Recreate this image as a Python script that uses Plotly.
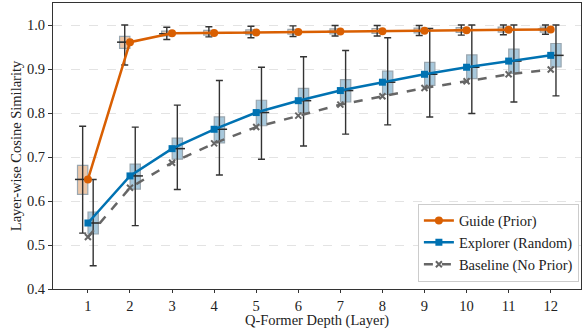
import plotly.graph_objects as go

layers = [1, 2, 3, 4, 5, 6, 7, 8, 9, 10, 11, 12]

guide_mean = [0.649, 0.961, 0.981, 0.982, 0.983, 0.984, 0.985, 0.986, 0.987, 0.988, 0.989, 0.990]
explorer_mean = [0.550, 0.657, 0.719, 0.763, 0.801, 0.828, 0.851, 0.870, 0.888, 0.904, 0.918, 0.931]
baseline_mean = [0.518, 0.630, 0.687, 0.731, 0.768, 0.794, 0.819, 0.838, 0.857, 0.872, 0.888, 0.899]

guide_q1 = [0.615, 0.947, 0.975, 0.977, 0.978, 0.979, 0.980, 0.981, 0.982, 0.983, 0.984, 0.984]
guide_med = [0.649, 0.961, 0.980, 0.982, 0.983, 0.984, 0.985, 0.986, 0.987, 0.988, 0.989, 0.990]
guide_q3 = [0.681, 0.974, 0.986, 0.988, 0.989, 0.990, 0.991, 0.992, 0.993, 0.994, 0.995, 0.995]
guide_lo = [0.527, 0.909, 0.967, 0.973, 0.971, 0.974, 0.975, 0.975, 0.976, 0.977, 0.978, 0.979]
guide_hi = [0.770, 1.000, 0.995, 0.996, 0.997, 0.998, 0.999, 0.999, 0.999, 1.000, 1.000, 1.000]

explorer_q1 = [0.525, 0.627, 0.695, 0.732, 0.771, 0.801, 0.825, 0.842, 0.863, 0.878, 0.890, 0.905]
explorer_med = [0.550, 0.657, 0.719, 0.763, 0.801, 0.828, 0.851, 0.870, 0.888, 0.904, 0.918, 0.931]
explorer_q3 = [0.575, 0.684, 0.743, 0.791, 0.829, 0.856, 0.876, 0.895, 0.915, 0.932, 0.945, 0.958]
explorer_lo = [0.453, 0.544, 0.626, 0.659, 0.695, 0.725, 0.752, 0.773, 0.791, 0.799, 0.825, 0.839]
explorer_hi = [0.649, 0.768, 0.818, 0.874, 0.904, 0.928, 0.942, 0.971, 0.992, 1.000, 1.000, 1.000]

y_ticks = [0.4, 0.5, 0.6, 0.7, 0.8, 0.9, 1.0]

ORANGE = "#D95F02"
BLUE = "#0072B2"
GRAY = "#666666"
FONT = "Liberation Serif"
FS = 14.5

OFF = 0.125
BW = 0.245

fig = go.Figure()

def add_boxes(pos, q1, med, q3, lo, hi, fill):
    # whiskers (under boxes)
    fig.add_trace(go.Scatter(
        x=pos, y=med, mode="markers",
        marker=dict(size=1, color="rgba(0,0,0,0)"),
        error_y=dict(type="data", symmetric=False,
                     array=[h - m for h, m in zip(hi, med)],
                     arrayminus=[m - l for m, l in zip(med, lo)],
                     color="#333333", thickness=1.4, width=3.5),
        showlegend=False, hoverinfo="skip"))
    fig.add_trace(go.Box(
        x=pos, q1=q1, median=med, q3=q3, lowerfence=q1, upperfence=q3,
        width=BW, fillcolor=fill, line=dict(color="#9aa7b0", width=1.2),
        boxpoints=False, showlegend=False, hoverinfo="skip", whiskerwidth=0))
    fig.add_trace(go.Scatter(
        x=pos, y=med, mode="markers",
        marker=dict(symbol="line-ew", size=11,
                    line=dict(color="#2a2a2a", width=1.5)),
        showlegend=False, hoverinfo="skip"))

guide_pos = [l - OFF for l in layers]
explorer_pos = [l + OFF for l in layers]
add_boxes(guide_pos, guide_q1, guide_med, guide_q3, guide_lo, guide_hi, "#EDC7A8")
add_boxes(explorer_pos, explorer_q1, explorer_med, explorer_q3, explorer_lo, explorer_hi, "#A7C8DC")

fig.add_trace(go.Scatter(
    x=layers, y=baseline_mean, mode="lines+markers", name="Baseline (No Prior)",
    line=dict(color=GRAY, width=2.5, dash="dash"),
    marker=dict(symbol="x-thin", size=6, line=dict(color=GRAY, width=2)),
    legendrank=3))
fig.add_trace(go.Scatter(
    x=layers, y=explorer_mean, mode="lines+markers", name="Explorer (Random)",
    line=dict(color=BLUE, width=2.5),
    marker=dict(symbol="square", size=7, color=BLUE),
    legendrank=2))
fig.add_trace(go.Scatter(
    x=layers, y=guide_mean, mode="lines+markers", name="Guide (Prior)",
    line=dict(color=ORANGE, width=2.5),
    marker=dict(symbol="circle", size=8, color=ORANGE),
    legendrank=1))

fig.update_layout(
    width=582, height=329,
    margin=dict(l=53, r=1, t=3, b=40),
    plot_bgcolor="white", paper_bgcolor="white",
    font=dict(family=FONT, size=FS, color="#222222"),
    showlegend=True,
    legend=dict(x=0.996, xanchor="right", y=0.026, yanchor="bottom",
                bgcolor="white", bordercolor="#cccccc", borderwidth=1,
                font=dict(family=FONT, size=FS, color="#222222"),
                tracegroupgap=0, itemwidth=30),
)
fig.update_xaxes(
    range=[0.17, 12.72], tickvals=layers, ticktext=[str(l) for l in layers],
    ticks="outside", ticklen=3, tickcolor="#333333",
    showline=True, mirror=True, linecolor="#333333", linewidth=1.2,
    showgrid=False, zeroline=False,
    title=dict(text="Q-Former Depth (Layer)", standoff=4,
               font=dict(family=FONT, size=FS)))
fig.update_yaxes(
    range=[0.4, 1.05], tickvals=y_ticks, ticktext=[f"{v:.1f}" for v in y_ticks],
    ticks="outside", ticklen=4, tickcolor="#333333",
    showline=True, mirror=True, linecolor="#333333", linewidth=1.2,
    showgrid=True, gridcolor="#e3e3e3", griddash="dash", gridwidth=0.8,
    zeroline=False,
    title=dict(text="Layer-wise Cosine Similarity", standoff=1,
               font=dict(family=FONT, size=FS)))

fig.write_html("out.html")
